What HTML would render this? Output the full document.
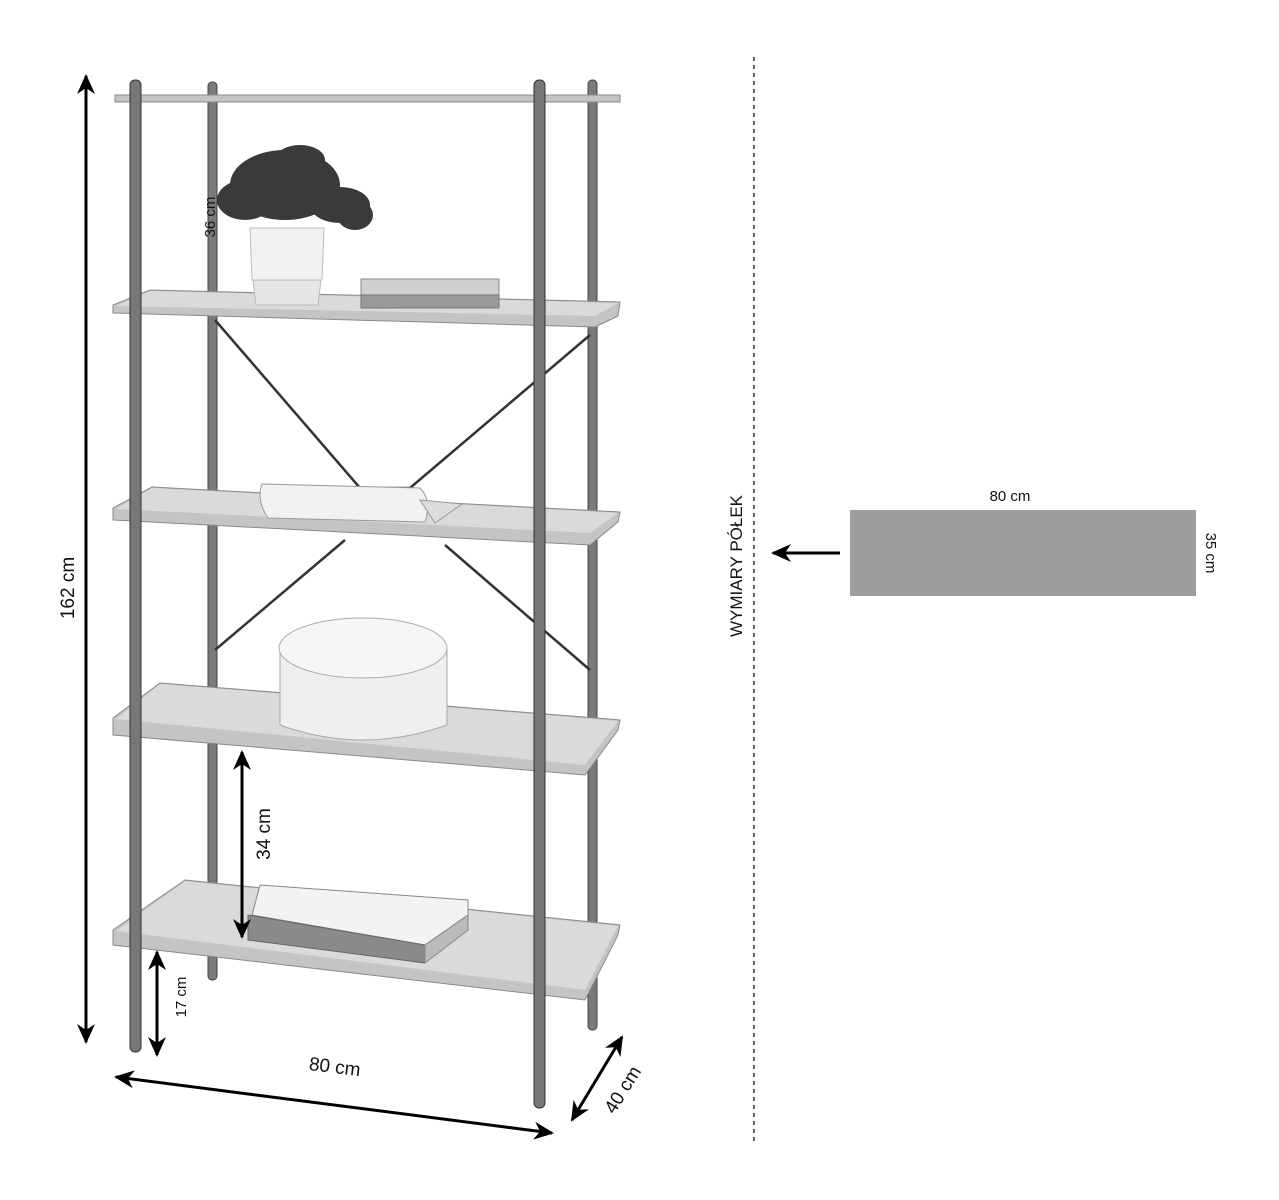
<!DOCTYPE html>
<html><head><meta charset="utf-8"><style>
html,body{margin:0;padding:0;background:#fff;}
svg{display:block;}
text{font-family:"Liberation Sans",sans-serif;fill:#111;}
</style></head><body>
<svg width="1279" height="1200" viewBox="0 0 1279 1200" xmlns="http://www.w3.org/2000/svg">
<defs>
<marker id="ah" markerWidth="20" markerHeight="18" refX="18" refY="9" orient="auto-start-reverse" markerUnits="userSpaceOnUse" viewBox="0 0 20 18">
<path d="M0,0 L20,9 L0,18 L6,9 z" fill="#000"/></marker>
</defs>
<rect x="208" y="82" width="9" height="898" rx="4" fill="#7a7a7a" stroke="#444" stroke-width="1"/>
<rect x="588" y="80" width="9" height="950" rx="4" fill="#7a7a7a" stroke="#444" stroke-width="1"/>
<g stroke="#333" stroke-width="2.5" fill="none">
<path d="M215,320 L360,488 L410,488 L590,335"/>
<path d="M215,650 L345,540"/>
<path d="M445,545 L590,670"/>
</g>
<g fill="#c4c4c4" stroke="#8a8a8a" stroke-width="1">
<polygon points="115,95 620,95 620,102 115,102"/>
<polygon points="150,290 620,302 618,316 595,327 113,313 113,305"/>
<polygon points="152,487 620,512 618,522 590,545 113,520 113,508"/>
<polygon points="160,683 620,720 618,730 585,775 113,735 113,718"/>
<polygon points="185,880 620,925 618,935 585,1000 113,945 113,930"/>
</g>
<g fill="#dadada">
<polygon points="150,291 618,303 595,316 116,306"/>
<polygon points="152,488 618,513 590,533 116,509"/>
<polygon points="160,684 618,721 585,765 116,719"/>
<polygon points="185,881 618,926 585,990 116,931"/>
</g>
<rect x="130" y="80" width="11" height="972" rx="5" fill="#777" stroke="#333" stroke-width="1"/>
<rect x="534" y="80" width="11" height="1028" rx="5" fill="#777" stroke="#333" stroke-width="1"/>
<g fill="#3a3a3a">
<ellipse cx="285" cy="185" rx="55" ry="35"/>
<ellipse cx="245" cy="200" rx="28" ry="20"/>
<ellipse cx="340" cy="205" rx="30" ry="18"/>
<ellipse cx="355" cy="215" rx="18" ry="15"/>
<ellipse cx="300" cy="160" rx="25" ry="15"/>
</g>
<path d="M250,228 L324,228 L322,280 L252,280 Z" fill="#f2f2f2" stroke="#bbb"/>
<path d="M253,280 L321,280 L318,305 L256,305 Z" fill="#e6e6e6" stroke="#bbb"/>
<rect x="361" y="279" width="138" height="16" fill="#cfcfcf" stroke="#888"/>
<rect x="361" y="295" width="138" height="13" fill="#9a9a9a" stroke="#777"/>
<path d="M262,484 L420,488 Q432,500 425,522 L268,518 Q256,500 262,484 Z" fill="#f2f2f2" stroke="#999"/>
<path d="M420,500 L462,504 L435,523 Z" fill="#ddd" stroke="#999"/>
<path d="M280,650 L280,725 Q362,755 447,725 L447,650 Z" fill="#efefef" stroke="#aaa"/>
<ellipse cx="363" cy="648" rx="84" ry="30" fill="#f6f6f6" stroke="#aaa"/>
<polygon points="260,885 468,900 468,915 425,945 252,915" fill="#f3f3f3" stroke="#888"/>
<polygon points="248,915 425,945 425,963 248,940" fill="#8a8a8a" stroke="#666"/>
<polygon points="425,945 468,915 468,930 425,963" fill="#bbb" stroke="#888"/>
<g stroke="#000" stroke-width="3" marker-start="url(#ah)" marker-end="url(#ah)">
<line x1="86" y1="76" x2="86" y2="1042"/>
<line x1="116" y1="1077" x2="552" y2="1133"/>
<line x1="572" y1="1120" x2="622" y2="1037"/>
<line x1="157" y1="952" x2="157" y2="1055"/>
<line x1="242" y1="752" x2="242" y2="937"/>
</g>
<line x1="840" y1="553" x2="773" y2="553" stroke="#000" stroke-width="3" marker-end="url(#ah)"/>
<text transform="translate(74,588) rotate(-90)" font-size="19" text-anchor="middle">162 cm</text>
<text transform="translate(334,1073) rotate(7)" font-size="19" text-anchor="middle">80 cm</text>
<text transform="translate(628,1093) rotate(-58)" font-size="19" text-anchor="middle">40 cm</text>
<text transform="translate(186,997) rotate(-90)" font-size="15" text-anchor="middle">17 cm</text>
<text transform="translate(270,834) rotate(-90)" font-size="19" text-anchor="middle">34 cm</text>
<text transform="translate(215,217) rotate(-90)" font-size="15" text-anchor="middle">36 cm</text>
<line x1="754" y1="57" x2="754" y2="1145" stroke="#333" stroke-width="1.5" stroke-dasharray="4,4"/>
<text transform="translate(742,566) rotate(-90)" font-size="17" text-anchor="middle">WYMIARY PÓŁEK</text>
<rect x="850" y="510" width="346" height="86" fill="#9e9e9e"/>
<text x="1010" y="501" font-size="15" text-anchor="middle">80 cm</text>
<text transform="translate(1206,553) rotate(90)" font-size="15" text-anchor="middle">35 cm</text>
</svg>
</body></html>
